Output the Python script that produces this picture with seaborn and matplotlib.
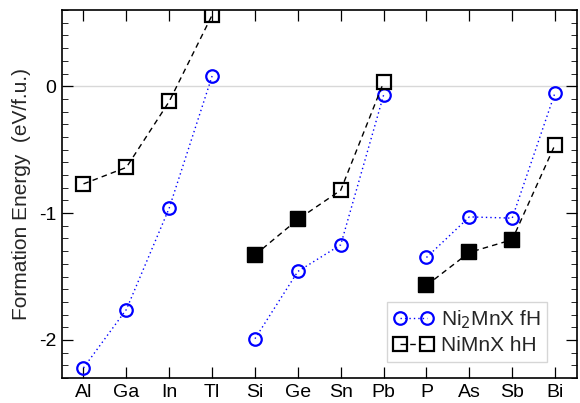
import matplotlib
matplotlib.use("Agg")
import matplotlib.pyplot as plt
from matplotlib.lines import Line2D
from matplotlib.ticker import MultipleLocator
import seaborn as sns
import pandas as pd
import numpy as np

elements = ["Al", "Ga", "In", "Tl", "Si", "Ge", "Sn", "Pb", "P", "As", "Sb", "Bi"]
groups = [0, 0, 0, 0, 1, 1, 1, 1, 2, 2, 2, 2]

# Ni2MnX, full Heusler (eV/f.u.)
e_full = [-2.22, -1.76, -0.96, 0.08, -1.99, -1.46, -1.25, -0.07, -1.35, -1.03, -1.04, -0.05]
# NiMnX, half Heusler (eV/f.u.)
e_half = [-0.77, -0.64, -0.12, 0.56, -1.33, -1.05, -0.82, 0.03, -1.57, -1.31, -1.21, -0.46]
# half-Heusler compounds drawn with filled markers
half_filled = [False, False, False, False, True, True, False, False, True, True, True, False]

sns.set_theme(style="ticks")
plt.rcParams["font.family"] = ["Liberation Sans", "DejaVu Sans"]

df = pd.DataFrame({
    "pos": np.arange(len(elements)),
    "group": groups,
    "full": e_full,
    "half": e_half,
    "filled": half_filled,
})

fig, ax = plt.subplots(figsize=(5.8, 4.03), dpi=100)
fig.subplots_adjust(left=0.107, right=0.994, top=0.975, bottom=0.062)

ax.axhline(0, color="#d8d8d8", lw=1.0, zorder=0)

sns.lineplot(data=df, x="pos", y="full", units="group", estimator=None, ax=ax,
             color="blue", linestyle=(0, (1, 2.2)), lw=1.0,
             marker="o", markersize=9, markerfacecolor="none",
             markeredgecolor="blue", markeredgewidth=1.6, zorder=3)
sns.lineplot(data=df, x="pos", y="half", units="group", estimator=None, ax=ax,
             color="black", linestyle=(0, (4, 3)), lw=1.0,
             marker="s", markersize=10, markerfacecolor="none",
             markeredgecolor="black", markeredgewidth=1.6, zorder=3)
sns.scatterplot(data=df[df["filled"]], x="pos", y="half", ax=ax,
                marker="s", s=100, color="black", edgecolor="black",
                linewidth=1.6, zorder=4)

ax.set_xlim(-0.5, 11.5)
ax.set_ylim(-2.3, 0.6)
ax.set_xticks(np.arange(len(elements)))
ax.set_xticklabels(elements)
ax.set_yticks([-2, -1, 0])
ax.set_yticklabels(["-2", "-1", "0"])
ax.yaxis.set_minor_locator(MultipleLocator(0.1))
ax.tick_params(axis="both", which="major", direction="in", length=8, width=0.9,
               top=True, right=True, labelsize=14, pad=4, colors="black")
ax.tick_params(axis="y", which="minor", direction="in", length=4, width=0.7,
               left=True, right=True)
ax.set_xlabel("")
ax.set_ylabel("Formation Energy  (eV/f.u.)", fontsize=15, labelpad=6)
for sp in ax.spines.values():
    sp.set_linewidth(1.2)
    sp.set_color("black")

handles = [
    Line2D([], [], color="blue", linestyle=(0, (1, 2.2)), lw=1.0, marker="o",
           markersize=9, markerfacecolor="none", markeredgecolor="blue",
           markeredgewidth=1.6),
    Line2D([], [], color="black", linestyle=(0, (4, 3)), lw=1.0, marker="s",
           markersize=10, markerfacecolor="none", markeredgecolor="black",
           markeredgewidth=1.6),
]
leg = ax.legend(handles, ["Ni$_2$MnX fH", "NiMnX hH"], loc="lower right",
                numpoints=2, fontsize=15, frameon=True, fancybox=False,
                handlelength=1.9, handletextpad=0.35, borderpad=0.3,
                labelspacing=0.25, bbox_to_anchor=(0.962, 0.016))
leg.get_frame().set_edgecolor("#cccccc")
leg.get_frame().set_linewidth(1.0)

fig.savefig("out.png", dpi=100)
